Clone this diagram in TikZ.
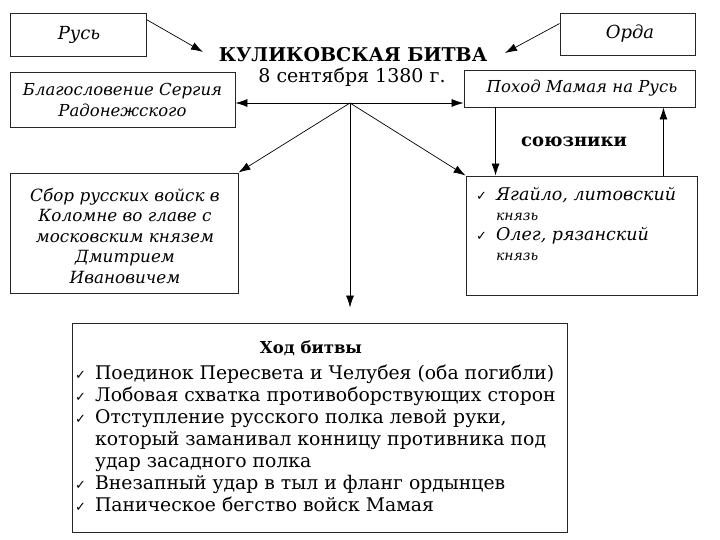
\documentclass[tikz,border=0pt]{standalone}
\usepackage{fontspec}
\setmainfont{DejaVu Serif}
\newfontfamily\chk{DejaVu Sans}
\usetikzlibrary{arrows.meta}
\begin{document}
\begin{tikzpicture}[x=1pt,y=-1pt,
  box/.style={draw=black!85, line width=0.9pt, inner sep=0pt},
  arr/.style={-{Latex[length=12pt,width=8pt]}, line width=0.7pt},
  ital/.style={font=\fontsize{16.5}{21}\selectfont\itshape, align=center, inner sep=0pt}
]
\useasboundingbox (0,0) rectangle (720,540);
% boxes
\node[box, minimum width=136, minimum height=43] (rus) at (78,34.5) {};
\node[ital, font=\fontsize{18}{21}\selectfont\itshape] (rust) at (79,34.5) {Русь};
\node[box, minimum width=135, minimum height=42] (orda) at (627.5,34) {};
\node[ital, font=\fontsize{18}{21}\selectfont\itshape] (ordat) at (630,34) {Орда};
\node[box, minimum width=225, minimum height=55] (blag) at (122.5,99.5) {};
\node[ital] (blagt) at (122.5,99.5) {Благословение Сергия\\Радонежского};
\node[box, minimum width=231, minimum height=37] (pohod) at (579.5,88.5) {};
\node[ital] (pohodt) at (582,88.5) {Поход Мамая на Русь};
\node[box, minimum width=228, minimum height=120] (sbor) at (124,233) {};
\node[ital, font=\fontsize{16.8}{20.5}\selectfont\itshape] (sbort) at (125,236) {Сбор русских войск в\\Коломне во главе с\\московским князем\\Дмитрием\\Ивановичем};
\node[box, minimum width=231, minimum height=119] (soyuz) at (581.5,235.5) {};
\node[anchor=north west, inner sep=0pt, font=\fontsize{17.5}{19.7}\selectfont\itshape] (soyuzt) at (476,187) {%
\begin{tabular}{@{}l@{\hspace{9pt}}l@{}}
{\chk\upshape\fontsize{13}{19.7}\selectfont ✓} & Ягайло, литовский\\
 & {\fontsize{14}{19.7}\selectfont князь}\\
{\chk\upshape\fontsize{13}{19.7}\selectfont ✓} & Олег, рязанский\\
 & {\fontsize{14}{19.7}\selectfont князь}
\end{tabular}};
\node[box, minimum width=495, minimum height=209] (hod) at (319.5,427.5) {};
\node[font=\fontsize{16.5}{18}\selectfont\bfseries, inner sep=0pt] (hodt) at (311,348) {Ход битвы};
\node[anchor=north west, inner sep=0pt, font=\fontsize{18.8}{22}\selectfont] (items) at (75,364) {%
\begin{tabular}{@{}l@{\hspace{9pt}}l@{}}
{\chk\fontsize{13}{22}\selectfont ✓} & Поединок Пересвета и Челубея (оба погибли)\\
{\chk\fontsize{13}{22}\selectfont ✓} & Лобовая схватка противоборствующих сторон\\
{\chk\fontsize{13}{22}\selectfont ✓} & Отступление русского полка левой руки,\\
 & который заманивал конницу противника под\\
 & удар засадного полка\\
{\chk\fontsize{13}{22}\selectfont ✓} & Внезапный удар в тыл и фланг ордынцев\\
{\chk\fontsize{13}{22}\selectfont ✓} & Паническое бегство войск Мамая
\end{tabular}};
% title
\node[font=\fontsize{19}{22}\selectfont\bfseries, inner sep=0pt] (title) at (353,55) {КУЛИКОВСКАЯ БИТВА};
\node[font=\fontsize{19}{22}\selectfont, inner sep=0pt] (date) at (352,77) {8 сентября 1380 г.};
\node[font=\fontsize{18}{20}\selectfont\bfseries, inner sep=0pt] (soyuzl) at (574,142) {союзники};
% connectors
\coordinate (hub) at (350,103);
\coordinate (rusend) at (203,52);
\coordinate (ordaend) at (505,53);
\draw[arr] ([yshift=-7pt]rus.north east) -- (rusend);
\draw[arr] ([yshift=-11pt]orda.north west) -- (ordaend);
\draw[arr] (hub) -- (hub -| blag.east);
\draw[arr] (hub) -- (hub -| pohod.west);
\draw[arr] (hub) -- (sbor.north east);
\draw[arr] (hub) -- (soyuz.north west);
\draw[arr, shorten >=15pt] (hub) -- (hub |- hod.north);
\draw[arr] ([xshift=32pt]pohod.south west) -- ([xshift=30pt]soyuz.north west);
\draw[arr] ([xshift=-34pt]soyuz.north east) -- ([xshift=-32pt]pohod.south east);
\end{tikzpicture}
\end{document}
